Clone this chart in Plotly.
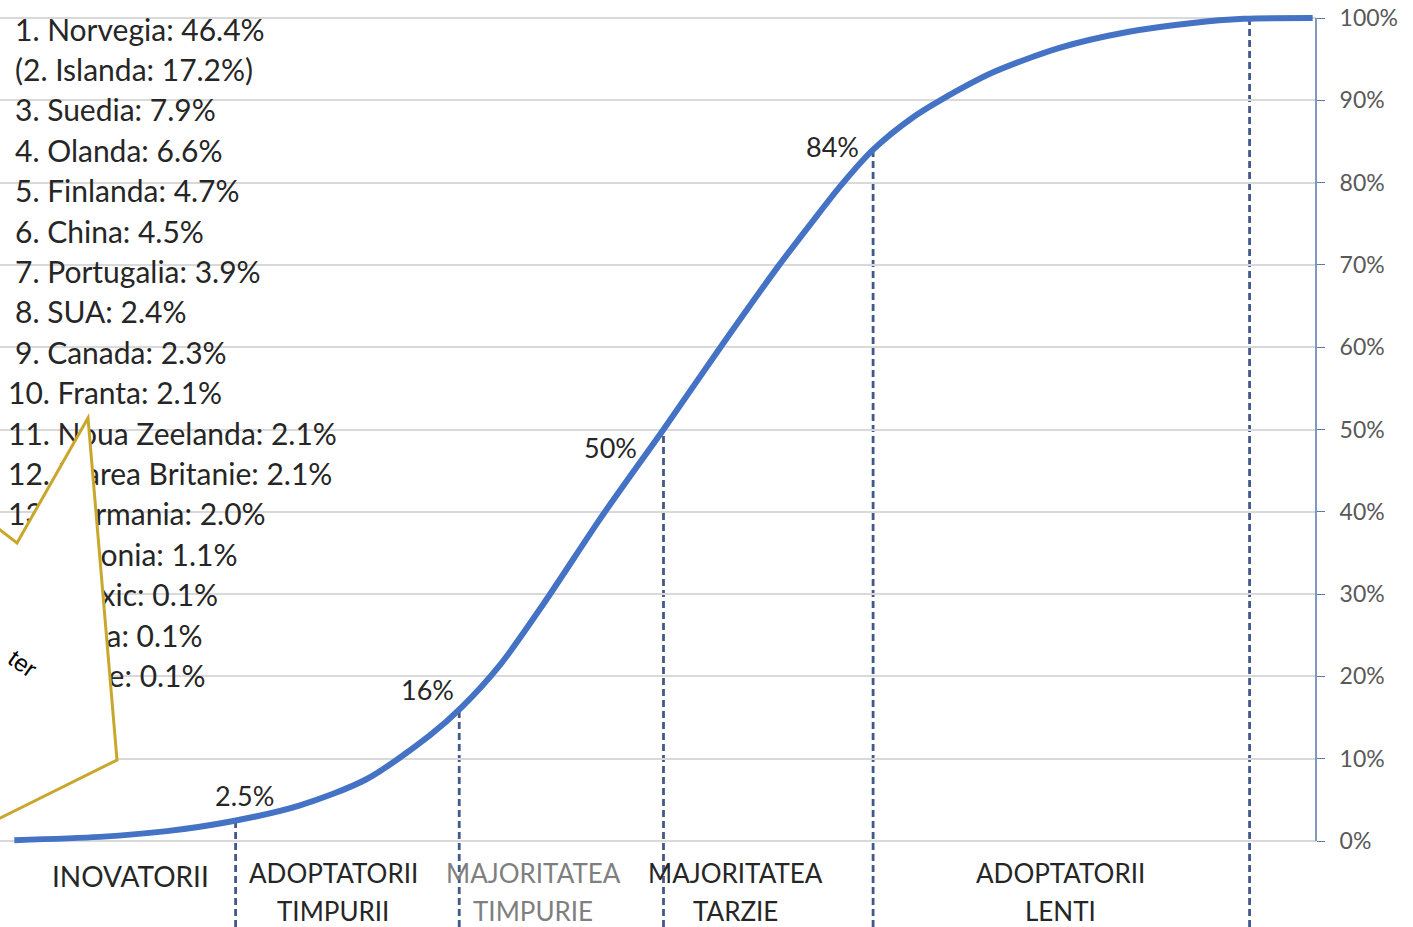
import numpy as np
import plotly.graph_objects as go

# Cumulative adoption curve (x in standard deviations, y in share of adopters)
curve_x = [-3.05, -2.63, -2.30, -1.98, -1.65, -1.32, -1.01, -0.85, -0.66, -0.45,
           -0.17, 0.01, 0.14, 0.42, 0.70, 0.87, 1.01, 1.17, 1.37, 1.50,
           1.76, 2.09, 2.42, 2.74, 2.99, 3.33]
curve_y = [0.001, 0.005, 0.012, 0.024, 0.043, 0.075, 0.128, 0.163, 0.215, 0.288,
           0.392, 0.455, 0.500, 0.600, 0.697, 0.752, 0.796, 0.840, 0.880, 0.900,
           0.934, 0.964, 0.983, 0.994, 0.999, 1.000]

# Cumulative shares that separate the adopter segments
boundary_pct = [0.025, 0.16, 0.50, 0.84]
boundary_labels = ["2.5%", "16%", "50%", "84%"]
last_boundary_x = 3.02

segment_lines = [["INOVATORII"], ["ADOPTATORII", "TIMPURII"], ["MAJORITATEA", "TIMPURIE"],
                 ["MAJORITATEA", "TARZIE"], ["ADOPTATORII", "LENTI"]]

countries = ["1. Norvegia: 46.4%", "(2. Islanda: 17.2%)", "3. Suedia: 7.9%", "4. Olanda: 6.6%",
             "5. Finlanda: 4.7%", "6. China: 4.5%", "7. Portugalia: 3.9%", "8. SUA: 2.4%",
             "9. Canada: 2.3%", "10. Franta: 2.1%", "11. Noua Zeelanda: 2.1%",
             "12. Marea Britanie: 2.1%", "13. Germania: 2.0%", "14. Japonia: 1.1%",
             "15. Mexic: 0.1%", "16. India: 0.1%", "17. Chile: 0.1%"]

# ---- page geometry ----
W, H = 1413, 927
ML, MR, MT, MB = 0, 97, 8, 0
PX0, PX_PER_SD = 635.0, 203.5          # pixel of x=0 and pixels per SD
PY0, PY_PER_UNIT = 841.0, 823.0         # pixel of 0% and pixels per 100%

def x_of_px(px):
    return (px - PX0) / PX_PER_SD

def y_of_py(py):
    return (PY0 - py) / PY_PER_UNIT

def paper_x(px):
    return (px - ML) / (W - ML - MR)

def paper_y(py):
    return (H - MB - py) / (H - MT - MB)

x_range = [x_of_px(ML), x_of_px(W - MR)]
y_range = [y_of_py(H - MB), y_of_py(MT)]

BLUE = "#4472C4"
AXIS = "#5a78a8"
DASH = "#42598a"
GOLD = "#c9a62c"
TEXT = "#262626"

fig = go.Figure()

# country list (drawn as a trace so the callout shape can sit above it)
row_py = [33 + 40.4 * i for i in range(len(countries))]
row_px = [15 if not c[0:2].isdigit() else 8 for c in countries]
fig.add_trace(go.Scatter(
    x=[x_of_px(p) for p in row_px], y=[y_of_py(p) for p in row_py],
    mode="text", text=countries, textposition="middle right",
    textfont=dict(family="Lato", size=30, color=TEXT),
    cliponaxis=False, hoverinfo="skip", showlegend=False))

# adoption curve
fig.add_trace(go.Scatter(
    x=curve_x, y=curve_y, mode="lines",
    line=dict(color=BLUE, width=6, shape="spline", smoothing=0.8),
    hoverinfo="skip", showlegend=False))

# segment boundaries where the curve reaches each cumulative share
bx = list(np.interp(boundary_pct, curve_y[:-1], curve_x[:-1]))
bx.append(last_boundary_x)
by = list(boundary_pct) + [float(np.interp(last_boundary_x, curve_x, curve_y))]
shapes = []
for xv, yv in zip(bx, by):
    shapes.append(dict(type="line", xref="x", yref="y", x0=xv, x1=xv,
                       y0=y_range[0], y1=yv, layer="below",
                       line=dict(color=DASH, width=2.8, dash="7px,4px")))

# right-hand axis line from 0% to 100%
shapes.append(dict(type="line", xref="paper", yref="y", x0=1, x1=1, y0=0, y1=1,
                   line=dict(color=AXIS, width=1.5), layer="above"))

# callout shape
poly = [(-40, 499), (17, 543), (88, 418), (117, 760), (-40, 838)]
path = "M " + " L ".join(f"{paper_x(a):.5f},{paper_y(b):.5f}" for a, b in poly) + " Z"
shapes.append(dict(type="path", xref="paper", yref="paper", path=path,
                   fillcolor="white", line=dict(color=GOLD, width=3), layer="above"))

annotations = []
# value labels beside the boundaries
label_shift = [(9, 25), (-32, 20), (-53, -18), (-41, 3)]
for xv, yv, t, (dx, dy) in zip(bx, by, boundary_labels, label_shift):
    annotations.append(dict(x=xv, y=yv, xref="x", yref="y", text=t, showarrow=False,
                            xshift=dx, yshift=dy,
                            font=dict(family="Lato", size=27, color=TEXT)))

# segment names under the curve
seg_px = [130, 333, 533, 735, 1060]
seg_colors = [TEXT, TEXT, "#7f7f7f", TEXT, TEXT]
seg_sizes = [28, 26, 26, 26, 26]
for px, lines, col, fs in zip(seg_px, segment_lines, seg_colors, seg_sizes):
    pys = [876] if len(lines) == 1 else [873, 911]
    for line_text, py in zip(lines, pys):
        annotations.append(dict(x=x_of_px(px), y=y_of_py(py), xref="x", yref="y",
                                text=line_text, showarrow=False,
                                font=dict(family="Lato", size=fs, color=col)))

# text inside the callout
annotations.append(dict(x=paper_x(23), y=paper_y(663), xref="paper", yref="paper",
                        text="ter", showarrow=False, textangle=35,
                        xanchor="center", yanchor="middle", borderpad=0,
                        font=dict(family="Liberation Sans", size=24, color="black")))

fig.update_layout(
    width=W, height=H, autosize=False,
    margin=dict(l=ML, r=MR, t=MT, b=MB, pad=0),
    paper_bgcolor="white", plot_bgcolor="white",
    shapes=shapes, annotations=annotations,
    xaxis=dict(range=x_range, visible=False, fixedrange=True),
    yaxis=dict(range=y_range, side="right", tickvals=[i / 10 for i in range(11)],
               tickformat=".0%", ticks="outside", ticklen=8, tickcolor=AXIS,
               ticklabelstandoff=10, showline=False, zeroline=False,
               gridcolor="#d9d9d9", gridwidth=1.5,
               tickfont=dict(family="Lato", size=23, color="#595959")),
)

fig.write_html("out.html")
